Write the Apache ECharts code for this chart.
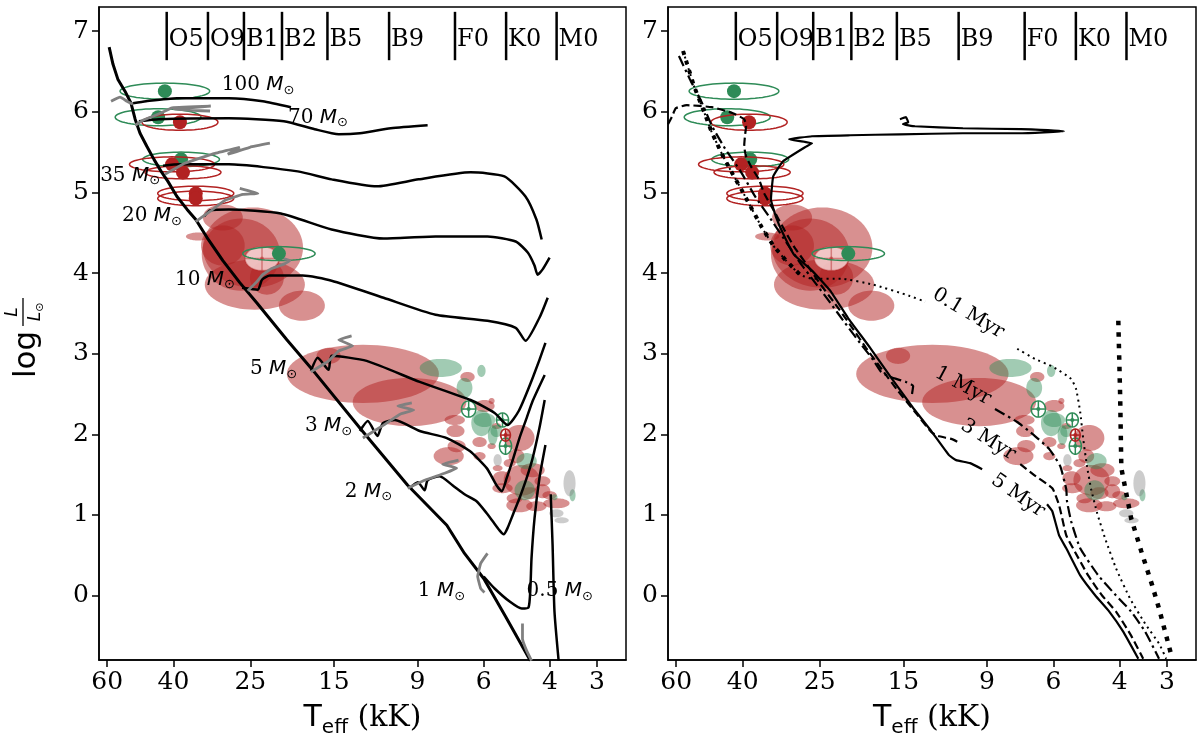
<!DOCTYPE html>
<html>
<head>
<meta charset="utf-8">
<script src="https://cdn.jsdelivr.net/npm/echarts@6/dist/echarts.min.js"></script>
<style>
html, body { margin: 0; padding: 0; background: #fff; }
#main { width: 1200px; height: 748px; }
</style>
</head>
<body>
<div id="main"></div>
<script>
// x = log10(Teff / K), y = log(L / Lsun)
var tickTeff = [60, 40, 25, 15, 9, 6, 4, 3]; // kK
var tickL = [0, 1, 2, 3, 4, 5, 6, 7];
var spectralTypes = ['O5', 'O9', 'B1', 'B2', 'B5', 'B9', 'F0', 'K0', 'M0'];
var spectralTeff = [41700, 32400, 26000, 20600, 15600, 10700, 7150, 5230, 3840];

// ---- evolutionary tracks (left panel)
var zams = [[4.773,6.803],[4.763,6.592],[4.750,6.405],[4.731,6.256],[4.715,6.107],[4.704,5.908],[4.691,5.734],[4.673,5.572],[4.654,5.410],[4.635,5.261],[4.617,5.137],[4.593,4.950],[4.566,4.789],[4.543,4.664],[4.513,4.440],[4.471,4.154],[4.426,3.881],[4.381,3.632],[4.301,3.172],[4.237,2.823],[4.107,2.077],[3.980,1.368],[3.876,0.871],[3.829,0.522],[3.778,0.211],[3.720,-0.261],[3.654,-0.808]];
var track100 = [[4.710,6.107],[4.675,6.132],[4.593,6.169],[4.455,6.169],[4.365,6.132],[4.290,6.057]];
var track70 = [[4.694,5.883],[4.641,5.908],[4.455,5.920],[4.309,5.883],[4.227,5.784],[4.163,5.721],[4.107,5.734],[4.025,5.796],[3.927,5.833]];
var track35 = [[4.630,5.330],[4.585,5.348],[4.455,5.348],[4.272,5.261],[4.182,5.162],[4.062,5.075],[3.951,5.162],[3.813,5.249],[3.723,5.199],[3.667,4.950],[3.638,4.664],[3.624,4.415]];
var track20 = [[4.521,4.701],[4.505,4.776],[4.455,4.789],[4.317,4.739],[4.182,4.540],[4.044,4.428],[3.906,4.453],[3.768,4.453],[3.693,4.391],[3.661,4.254],[3.643,4.092],[3.635,3.980],[3.622,4.042],[3.603,4.192]];
var track10 = [[4.420,3.818],[4.378,3.794],[4.367,3.918],[4.346,3.968],[4.259,3.968],[4.182,3.905],[4.044,3.694],[3.906,3.483],[3.768,3.408],[3.693,3.321],[3.667,3.159],[3.630,3.445],[3.608,3.694]];
var track5 = [[4.237,2.786],[4.219,2.948],[4.190,2.799],[4.182,2.973],[4.089,2.910],[3.948,2.649],[3.813,2.425],[3.749,2.264],[3.715,2.114],[3.685,2.289],[3.648,2.699],[3.614,3.134]];
var track3 = [[4.107,2.040],[4.086,2.164],[4.060,1.978],[4.046,2.139],[4.014,2.177],[3.948,2.040],[3.876,1.953],[3.815,1.791],[3.770,1.580],[3.744,1.368],[3.730,1.294],[3.717,1.455],[3.701,1.679],[3.683,1.953],[3.664,2.201],[3.648,2.413],[3.616,2.736]];
var track2 = [[3.975,1.331],[3.953,1.405],[3.935,1.306],[3.927,1.430],[3.895,1.480],[3.861,1.368],[3.829,1.256],[3.797,1.169],[3.770,1.020],[3.754,0.920],[3.736,0.808],[3.725,0.759],[3.715,0.833],[3.699,1.020],[3.683,1.206],[3.664,1.455],[3.648,1.704],[3.630,2.077],[3.616,2.425]];
var track1 = [[3.778,0.236],[3.749,0.087],[3.709,-0.075],[3.677,-0.162],[3.659,-0.149],[3.654,0.087],[3.651,0.460],[3.643,0.958],[3.630,1.455],[3.614,1.866]];
var track05 = [[3.600,1.256],[3.595,0.622],[3.590,-0.199],[3.579,-0.808]];

var grey100 = [[4.768,6.132],[4.744,6.182],[4.726,6.132],[4.710,6.095]];
var grey70 = [[4.704,5.833],[4.683,5.896],[4.640,5.975],[4.606,6.050],[4.503,6.070],[4.600,6.030],[4.505,6.010]];
var grey35 = [[4.625,5.224],[4.572,5.361],[4.492,5.485],[4.426,5.560],[4.458,5.473],[4.399,5.560],[4.346,5.610]];
var grey20 = [[4.543,4.639],[4.505,4.764],[4.466,4.900],[4.418,4.975],[4.378,4.988],[4.426,5.050]];
var grey10 = [[4.405,3.781],[4.383,3.881],[4.365,3.980],[4.341,4.055],[4.306,4.117],[4.293,4.154],[4.309,4.179]];
var grey5 = [[4.237,2.774],[4.190,2.910],[4.163,3.035],[4.126,3.097],[4.163,3.172],[4.129,3.221]];
var grey3 = [[4.099,1.953],[4.044,2.114],[3.999,2.251],[3.964,2.301],[4.006,2.351],[3.969,2.388]];
var grey2 = [[3.980,1.331],[3.935,1.430],[3.882,1.517],[3.850,1.580],[3.887,1.629],[3.845,1.679]];
var grey1 = [[3.768,0.522],[3.786,0.398],[3.794,0.236],[3.786,0.087],[3.776,0.037]];
var greyLow = [[3.675,-0.348],[3.675,-0.535],[3.664,-0.684],[3.651,-0.808]];

var massLabels = ['100', '70', '35', '20', '10', '5', '3', '2', '1', '0.5'];
var massLabelPos = [[4.474,6.33],[4.298,5.93],[4.797,5.21],[4.739,4.71],[4.598,3.92],[4.399,2.81],[4.253,2.10],[4.147,1.29],[3.953,0.06],[3.664,0.06]];

// ---- isochrones (right panel), null = gap for the inline label
var iso01 = [[4.760,6.754],[4.731,6.318],[4.707,6.032],[4.683,5.734],[4.654,5.448],[4.628,5.224],[4.604,5.025],[4.577,4.789],[4.551,4.565],[4.521,4.341],[4.487,4.154],[4.450,3.980],[4.418,3.930],[4.341,3.930],[4.256,3.856],[4.161,3.719],[4.118,3.644],null,[3.874,3.060],[3.827,2.935],[3.779,2.836],[3.731,2.687],[3.718,2.562],[3.707,2.276],[3.699,1.940],[3.689,1.604],[3.678,1.318],[3.662,1.020],[3.641,0.709],[3.612,0.336],[3.575,-0.037],[3.535,-0.348],[3.498,-0.597],[3.479,-0.784]];
var iso1 = [[4.771,6.692],[4.742,6.405],[4.712,6.132],[4.683,5.821],[4.646,5.522],[4.609,5.274],[4.569,4.950],[4.532,4.701],[4.484,4.366],[4.450,4.129],[4.410,3.881],[4.370,3.632],[4.331,3.383],[4.291,3.134],[4.256,2.923],[4.235,2.774],[4.211,2.711],[4.169,2.649],[4.150,2.600],[4.153,2.500],null,[3.933,2.313],[3.874,2.152],[3.827,1.978],[3.789,1.816],[3.760,1.604],[3.744,1.318],[3.742,1.169],[3.731,0.920],[3.707,0.585],[3.659,0.249],[3.612,0.000],[3.572,-0.199],[3.535,-0.448],[3.498,-0.784]];
var iso3 = [[4.800,5.846],[4.789,5.945],[4.779,6.045],[4.750,6.082],[4.683,6.057],[4.628,5.983],[4.598,5.908],[4.593,5.821],[4.596,5.697],[4.598,5.572],[4.593,5.448],[4.580,5.323],[4.559,5.162],[4.545,4.988],[4.521,4.789],[4.492,4.540],[4.466,4.328],[4.434,4.117],[4.397,3.868],[4.357,3.619],[4.317,3.358],[4.275,3.072],[4.232,2.799],[4.190,2.537],[4.147,2.289],[4.102,2.027],[4.084,1.978],[4.047,1.940],[4.031,1.903],null,[3.866,1.629],[3.829,1.493],[3.781,1.331],[3.763,1.119],[3.744,0.746],[3.726,0.585],[3.686,0.249],[3.649,0.000],[3.612,-0.199],[3.572,-0.498],[3.540,-0.784]];
var iso5 = [[4.185,5.908],[4.169,5.933],[4.163,5.871],[4.177,5.846],[4.145,5.821],[4.018,5.796],[3.864,5.784],[3.750,5.759],[3.864,5.734],[4.018,5.734],[4.185,5.721],[4.317,5.709],[4.418,5.697],[4.479,5.659],[4.418,5.609],[4.437,5.560],[4.495,5.386],[4.521,5.199],[4.527,4.913],[4.514,4.701],[4.495,4.490],[4.466,4.229],[4.418,4.030],[4.370,3.781],[4.323,3.445],[4.264,3.072],[4.208,2.699],[4.150,2.326],[4.102,2.040],[4.055,1.741],[4.036,1.679],[3.999,1.642],[3.967,1.567],null,[3.795,1.132],[3.781,1.045],[3.763,0.746],[3.744,0.585],[3.707,0.249],[3.667,0.000],[3.630,-0.199],[3.593,-0.448],[3.553,-0.784]];
var isoHeavyTop = [[4.760,6.754],[4.731,6.318],[4.707,6.032],[4.683,5.734],[4.654,5.448],[4.628,5.224],[4.604,5.025],[4.577,4.789],[4.551,4.565],[4.521,4.341],[4.487,4.154],[4.450,3.980]];
var isoHeavyLow = [[3.606,3.408],[3.601,2.450],[3.598,1.580],[3.572,0.958],[3.545,0.547],[3.516,0.124],[3.498,-0.162],[3.479,-0.498],[3.463,-0.784]];

var isoLabels = ['0.1 Myr', '1 Myr', '3 Myr', '5 Myr'];
var isoLabelPos = [[4.004,3.50],[4.018,2.60],[3.951,1.93],[3.872,1.24]];
var isoLabelAngle = [-31, -28, -32, -35];

// ---- error ellipses: [log Teff, log L, half-width (dex), half-height (dex)]
var redEllipses = [[4.391,4.316,0.133,0.498],[4.386,3.856,0.133,0.311],[4.423,4.229,0.104,0.448],[4.471,4.689,0.053,0.162],[4.537,4.453,0.032,0.050],[4.471,4.341,0.058,0.249],[4.261,3.595,0.061,0.187],[4.354,3.943,0.045,0.211],[4.099,2.749,0.202,0.361],[3.975,2.400,0.151,0.299],[4.190,2.973,0.032,0.100],[3.821,2.711,0.019,0.062],[3.757,2.413,0.008,0.037],[3.776,2.351,0.027,0.075],[3.855,2.177,0.027,0.062],[3.853,2.040,0.024,0.075],[3.850,1.853,0.024,0.075],[3.871,1.729,0.040,0.112],[3.789,1.903,0.019,0.062],[3.789,1.729,0.016,0.050],[3.683,1.953,0.040,0.162],[3.744,2.102,0.013,0.037],[3.757,1.853,0.011,0.037],[3.648,1.555,0.032,0.087],[3.677,1.430,0.048,0.190],[3.728,1.331,0.027,0.062],[3.730,1.455,0.024,0.087],[3.691,1.729,0.021,0.087],[3.622,1.418,0.021,0.062],[3.622,1.294,0.021,0.087],[3.683,1.119,0.035,0.087],[3.638,1.107,0.027,0.062],[3.585,1.144,0.035,0.062],[3.603,1.244,0.019,0.050],[3.709,1.642,0.016,0.050],[3.696,1.206,0.021,0.062],[3.656,1.269,0.024,0.075],[3.741,1.580,0.013,0.037]];
var greenEllipses = [[3.892,2.823,0.056,0.112],[3.784,2.786,0.011,0.075],[3.829,2.575,0.021,0.124],[3.784,2.139,0.027,0.162],[3.776,2.177,0.029,0.087],[3.744,2.040,0.016,0.075],[3.754,1.990,0.013,0.124],[3.664,1.667,0.027,0.100],[3.669,1.306,0.027,0.124],[3.590,1.219,0.008,0.037],[3.542,1.244,0.008,0.075]];
var greyEllipses = [[3.550,1.393,0.016,0.162],[3.585,1.020,0.019,0.050],[3.571,0.933,0.019,0.037],[3.741,1.679,0.011,0.075]];
var greenRings = [[4.625,6.256,0.119,0.100],[4.643,5.933,0.114,0.105],[4.582,5.410,0.102,0.090],[4.322,4.241,0.096,0.087]];
var redRings = [[4.585,5.871,0.101,0.100],[4.606,5.348,0.113,0.093],[4.577,5.249,0.101,0.081],[4.543,4.988,0.101,0.090],[4.543,4.925,0.101,0.090]];
var greenCrosses = [[3.818,2.313,0.019,0.100],[3.728,2.177,0.016,0.087],[3.720,1.853,0.016,0.100]];
var redCrosses = [[3.720,1.990,0.013,0.075]];
var paleCrosses = [[4.367,4.179,0.045,0.149]];

var RED = '#b22222', GREEN = '#2e8b57';
var SERIF = '"DejaVu Serif", serif', SANS = '"DejaVu Sans", sans-serif';

var chart = echarts.init(document.getElementById('main'));

function ellipseGeom(api, e) {
  var c = api.coord([e[0], e[1]]);
  var s = api.size([e[2], e[3]], [e[0], e[1]]);
  var rx = Math.abs(s[0]), ry = Math.abs(s[1]);
  var pts = [];
  for (var i = 0; i < 64; i++) {
    var a = i / 64 * Math.PI * 2;
    pts.push([c[0] + rx * Math.cos(a), c[1] + ry * Math.sin(a)]);
  }
  return { c: c, rx: rx, ry: ry, pts: pts };
}

function fillSeries(arr, color, gi) {
  return {
    type: 'custom', xAxisIndex: gi, yAxisIndex: gi, z: 2, silent: true,
    data: arr, encode: { x: 0, y: 1 },
    renderItem: function (params, api) {
      var g = ellipseGeom(api, arr[params.dataIndex]);
      return { type: 'polygon', shape: { points: g.pts }, style: { fill: color } };
    }
  };
}

function ringSeries(arr, color, gi, mark, fill) {
  return {
    type: 'custom', xAxisIndex: gi, yAxisIndex: gi, z: 3, silent: true,
    data: arr, encode: { x: 0, y: 1 },
    renderItem: function (params, api) {
      var g = ellipseGeom(api, arr[params.dataIndex]);
      var kids = [{ type: 'polygon', shape: { points: g.pts },
        style: { fill: fill || 'none', stroke: mark === 'pale' ? 'rgba(178,34,34,0.35)' : color, lineWidth: 1.5 } }];
      if (mark === 'dot') {
        kids.push({ type: 'circle', shape: { cx: g.c[0], cy: g.c[1], r: 7 }, style: { fill: color } });
      } else {
        var cs = mark === 'pale' ? 'rgba(178,34,34,0.45)' : color;
        kids.push({ type: 'line', shape: { x1: g.c[0] - g.rx, y1: g.c[1], x2: g.c[0] + g.rx, y2: g.c[1] }, style: { stroke: cs, lineWidth: 1.5 } });
        kids.push({ type: 'line', shape: { x1: g.c[0], y1: g.c[1] - g.ry, x2: g.c[0], y2: g.c[1] + g.ry }, style: { stroke: cs, lineWidth: 1.5 } });
        kids.push({ type: 'circle', shape: { cx: g.c[0], cy: g.c[1], r: 2 }, style: { fill: cs } });
      }
      return { type: 'group', children: kids };
    }
  };
}

function lineSeries(arr, gi, ls, z, smooth) {
  var segs = [], cur = [];
  arr.forEach(function (p) {
    if (p === null) { if (cur.length) segs.push(cur); cur = []; } else cur.push(p);
  });
  if (cur.length) segs.push(cur);
  return segs.map(function (seg) {
    return {
      type: 'line', xAxisIndex: gi, yAxisIndex: gi, data: seg, symbol: 'none', showSymbol: false,
      smooth: smooth || 0, silent: true, z: z || 5, lineStyle: ls
    };
  });
}

function ellipseLayers(gi) {
  return [
    fillSeries(redEllipses, 'rgba(178,34,34,0.5)', gi),
    fillSeries(greenEllipses, 'rgba(46,139,87,0.45)', gi),
    fillSeries(greyEllipses, 'rgba(128,128,128,0.4)', gi),
    ringSeries(paleCrosses, RED, gi, 'pale', 'rgba(255,235,235,0.75)'),
    ringSeries(greenRings, GREEN, gi, 'dot'),
    ringSeries(redRings, RED, gi, 'dot'),
    ringSeries(greenCrosses, GREEN, gi, 'cross'),
    ringSeries(redCrosses, RED, gi, 'cross')
  ];
}

function spectralSeries(gi) {
  return {
    type: 'custom', xAxisIndex: gi, yAxisIndex: gi, z: 6, silent: true,
    data: spectralTeff.map(function (t) { return [Math.log10(t), 7]; }),
    encode: { x: 0, y: 1 },
    renderItem: function (params, api) {
      var x = api.value(0);
      var p1 = api.coord([x, 7.24]), p2 = api.coord([x, 6.64]), pm = api.coord([x, 6.89]);
      return { type: 'group', children: [
        { type: 'line', shape: { x1: p1[0], y1: p1[1], x2: p2[0], y2: p2[1] }, style: { stroke: '#000', lineWidth: 2.5 } },
        { type: 'text', x: pm[0] + 2, y: pm[1],
          style: { text: spectralTypes[params.dataIndex], fill: '#000', font: '24px ' + SERIF, align: 'left', verticalAlign: 'middle' } }
      ] };
    }
  };
}

var black = { color: '#000', width: 2.5 };
var greyStyle = { color: '#808080', width: 2.8 };
var series = [];
series = series.concat(ellipseLayers(0), ellipseLayers(1));
series = series.concat(lineSeries(zams, 0, { color: '#000', width: 3 }, 5));
[track100, track70, track35, track20, track10, track5, track3, track2, track1, track05].forEach(function (t) {
  series = series.concat(lineSeries(t, 0, black, 5, 0.2));
});
[grey100, grey70, grey35, grey20, grey10, grey5, grey3, grey2, grey1, greyLow].forEach(function (t) {
  series = series.concat(lineSeries(t, 0, greyStyle, 6, 0.1));
});
series = series.concat(lineSeries(isoHeavyTop, 1, { color: '#000', width: 4, type: [4, 6] }, 5));
series = series.concat(lineSeries(isoHeavyLow, 1, { color: '#000', width: 4.5, type: [4.5, 7] }, 5));
series = series.concat(lineSeries(iso01, 1, { color: '#000', width: 2, type: [2, 4] }, 5, 0.15));
series = series.concat(lineSeries(iso1, 1, { color: '#000', width: 2.2, type: [11, 4, 2.5, 4] }, 5, 0.15));
series = series.concat(lineSeries(iso3, 1, { color: '#000', width: 2.2, type: [8, 4] }, 5, 0.15));
series = series.concat(lineSeries(iso5, 1, { color: '#000', width: 2.2 }, 5, 0.1));
series.push(spectralSeries(0), spectralSeries(1));

series.push({
  type: 'custom', xAxisIndex: 0, yAxisIndex: 0, z: 7, silent: true,
  data: massLabelPos, encode: { x: 0, y: 1 },
  renderItem: function (params, api) {
    var p = api.coord([api.value(0), api.value(1)]);
    return { type: 'text', x: p[0], y: p[1], style: {
      text: '{n|' + massLabels[params.dataIndex] + ' }{m|M}{s|\u2299}',
      align: 'left', verticalAlign: 'middle',
      rich: {
        n: { fontFamily: SERIF, fontSize: 20, lineHeight: 24, fill: '#000', color: '#000' },
        m: { fontFamily: SANS, fontStyle: 'italic', fontSize: 20, lineHeight: 24, fill: '#000', color: '#000' },
        s: { fontFamily: SANS, fontSize: 13, lineHeight: 13, verticalAlign: 'bottom', fill: '#000', color: '#000' }
      } } };
  }
});

series.push({
  type: 'custom', xAxisIndex: 1, yAxisIndex: 1, z: 7, silent: true,
  data: isoLabelPos, encode: { x: 0, y: 1 },
  renderItem: function (params, api) {
    var p = api.coord([api.value(0), api.value(1)]);
    return { type: 'text', x: p[0], y: p[1], rotation: isoLabelAngle[params.dataIndex] * Math.PI / 180,
      style: { text: isoLabels[params.dataIndex], fill: '#000', font: '20px ' + SERIF, align: 'center', verticalAlign: 'middle' } };
  }
});

var tickVals = tickTeff.map(function (t) { return Math.log10(t * 1000); });

function xAxisFor(gi) {
  return {
    gridIndex: gi, type: 'value', min: 3.4, max: 4.8, inverse: true,
    axisLine: { show: true, onZero: false, lineStyle: { color: '#000', width: 1.5 } },
    axisTick: { show: true, customValues: tickVals, length: 7, lineStyle: { color: '#000', width: 1.5 } },
    axisLabel: { customValues: tickVals, color: '#000', fontFamily: SERIF, fontSize: 25, margin: 10,
      formatter: function (v) { return String(Math.round(Math.pow(10, v) / 1000)); } },
    splitLine: { show: false },
    name: '{t|T}{s|eff}{k| (kK)}', nameLocation: 'middle', nameGap: 38,
    nameTextStyle: { rich: {
      t: { fontFamily: SANS, fontSize: 30, lineHeight: 40, color: '#000' },
      s: { fontFamily: SANS, fontSize: 20, lineHeight: 20, verticalAlign: 'bottom', color: '#000' },
      k: { fontFamily: SERIF, fontSize: 30, lineHeight: 40, color: '#000' }
    } }
  };
}
function yAxisFor(gi) {
  return {
    gridIndex: gi, type: 'value', min: -0.8, max: 7.3,
    axisLine: { show: true, onZero: false, lineStyle: { color: '#000', width: 1.5 } },
    axisTick: { show: true, customValues: tickL, length: 7, lineStyle: { color: '#000', width: 1.5 } },
    axisLabel: { customValues: tickL, color: '#000', fontFamily: SERIF, fontSize: 25, margin: 10 },
    splitLine: { show: false }
  };
}

chart.setOption({
  animation: false,
  backgroundColor: '#fff',
  grid: [
    { left: 99, top: 7, width: 527, height: 653, show: true, borderColor: '#000', borderWidth: 1.5 },
    { left: 668, top: 7, width: 528, height: 653, show: true, borderColor: '#000', borderWidth: 1.5 }
  ],
  xAxis: [xAxisFor(0), xAxisFor(1)],
  yAxis: [yAxisFor(0), yAxisFor(1)],
  graphic: [{
    type: 'group', x: 27, y: 378, rotation: Math.PI / 2,
    children: [
      { type: 'text', x: 0, y: 0, style: { text: 'log', font: '31px ' + SANS, fill: '#000', align: 'left', verticalAlign: 'middle' } },
      { type: 'text', x: 66, y: -14, style: { text: 'L', font: 'italic 17px ' + SANS, fill: '#000', align: 'center', verticalAlign: 'middle' } },
      { type: 'line', shape: { x1: 52, y1: -4, x2: 80, y2: -4 }, style: { stroke: '#000', lineWidth: 1.3 } },
      { type: 'text', x: 66, y: 9, style: { text: '{a|L}{b|\u2299}', align: 'center', verticalAlign: 'middle',
        rich: { a: { fontFamily: SANS, fontStyle: 'italic', fontSize: 17, lineHeight: 20, fill: '#000' },
                b: { fontFamily: SANS, fontSize: 11, lineHeight: 11, verticalAlign: 'bottom', fill: '#000' } } } }
    ]
  }],
  series: series
});
</script>
</body>
</html>
